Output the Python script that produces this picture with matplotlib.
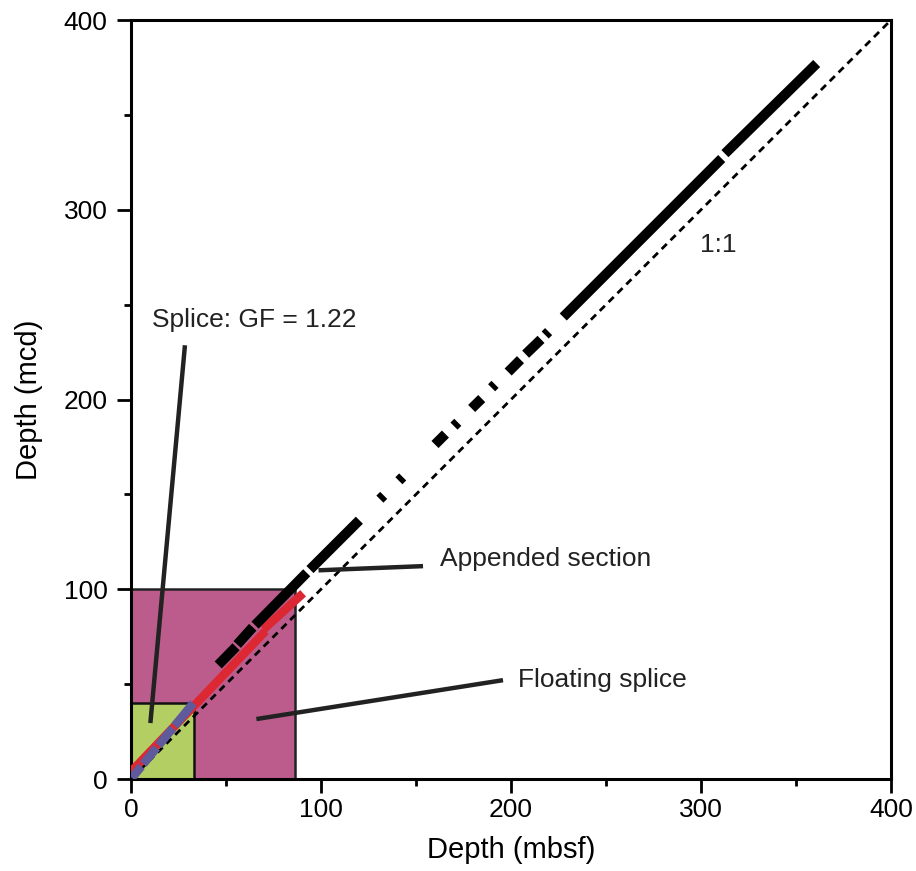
import matplotlib
matplotlib.use("Agg")
import matplotlib.pyplot as plt
from matplotlib.patches import Rectangle

plt.rcParams['font.family'] = ['Liberation Sans', 'DejaVu Sans']

# ---- data ----
# boxes: (x extent mbsf, y extent mcd)
floating_box = (86.3, 100.0)
splice_box = (33.0, 40.0)

# appended section cores (black): mbsf start/end, mcd start/end
app_x0 = [45.9, 55.9, 65.3, 94.2, 131.0, 141.0, 160.0, 170.0, 179.3, 189.8, 198.5, 207.7, 218.0, 227.5, 312.6]
app_x1 = [55.3, 64.1, 92.5, 120.2, 133.0, 143.0, 165.5, 172.0, 184.6, 191.6, 205.0, 215.8, 219.8, 310.9, 360.9]
app_y0 = [60.1, 70.9, 81.1, 110.4, 147.5, 157.2, 176.3, 186.0, 195.3, 206.2, 214.5, 223.9, 234.0, 243.5, 329.6]
app_y1 = [69.7, 80.0, 108.7, 136.4, 149.5, 159.2, 181.8, 188.0, 200.5, 208.0, 221.0, 231.7, 235.8, 327.0, 377.1]

# floating splice (red)
red_x0 = [0.0, 69.8]
red_x1 = [70.8, 90.6]
red_y0 = [3.8, 78.9]
red_y1 = [78.0, 97.9]

# splice with growth factor 1.22 (blue)
gf = 1.22
blue_x0 = [0.5, 6.5, 14.5, 23.0]
blue_x1 = [5.5, 13.5, 22.0, 32.8]

one_to_one = [0, 400]

xticks = [0, 100, 200, 300, 400]
yticks = [0, 100, 200, 300, 400]

# ---- figure ----
fig = plt.figure(figsize=(9.16, 8.71), dpi=100)
ax = fig.add_axes([0.143, 0.1056, 0.8297, 0.8714])

pink = '#BC5C8C'
green = '#B3CE62'
red = '#DC2833'
blue = '#5F5A9B'
txt = '#222222'

ax.add_patch(Rectangle((0, 0), floating_box[0], floating_box[1], facecolor=pink,
                       edgecolor='#222222', linewidth=1.8, zorder=1))
ax.add_patch(Rectangle((0, 0), splice_box[0], splice_box[1], facecolor=green,
                       edgecolor='#111111', linewidth=1.8, zorder=2))

ax.plot(one_to_one, one_to_one, color='black', linewidth=2.0, dashes=(2.6, 1.9),
        dash_capstyle='butt', zorder=3)

for x0, x1, y0, y1 in zip(red_x0, red_x1, red_y0, red_y1):
    ax.plot([x0, x1], [y0, y1], color=red, linewidth=6.2, solid_capstyle='butt', zorder=4)

for x0, x1 in zip(blue_x0, blue_x1):
    ax.plot([x0, x1], [gf * x0, gf * x1], color=blue, linewidth=6.2,
            solid_capstyle='butt', zorder=5)

for x0, x1, y0, y1 in zip(app_x0, app_x1, app_y0, app_y1):
    ax.plot([x0, x1], [y0, y1], color='black', linewidth=7.2, solid_capstyle='butt', zorder=6)

# annotations
lw_ann = 3.2
ax.plot([28.4, 10.2], [228.6, 29.5], color=txt, linewidth=lw_ann, solid_capstyle='butt', zorder=7)
ax.plot([98.7, 153.7], [110.0, 112.2], color=txt, linewidth=lw_ann, solid_capstyle='butt', zorder=7)
ax.plot([66.0, 195.8], [31.6, 52.1], color=txt, linewidth=lw_ann, solid_capstyle='butt', zorder=7)

fs = 19
ax.text(11.0, 241.8, 'Splice: GF = 1.22', fontsize=fs, color=txt, va='center', ha='left')
ax.text(162.6, 115.9, 'Appended section', fontsize=fs, color=txt, va='center', ha='left')
ax.text(203.7, 52.2, 'Floating splice', fontsize=fs, color=txt, va='center', ha='left')
ax.text(299.5, 281.4, '1:1', fontsize=fs, color=txt, va='center', ha='left')

ax.set_xlim(0, 400)
ax.set_ylim(0, 400)
ax.set_xticks(xticks)
ax.set_yticks(yticks)
ax.set_xticks([50, 150, 250, 350], minor=True)
ax.set_yticks([50, 150, 250, 350], minor=True)
ax.tick_params(which='major', direction='out', length=10, width=2, labelsize=19)
ax.tick_params(axis='x', which='major', pad=4)
ax.tick_params(axis='y', which='major', pad=7)
ax.tick_params(which='minor', direction='out', length=5, width=2)
for s in ax.spines.values():
    s.set_linewidth(2.2)
    s.set_color('black')

ax.set_xlabel('Depth (mbsf)', fontsize=21, labelpad=10)
ax.set_ylabel('Depth (mcd)', fontsize=21, labelpad=15)

fig.savefig('out.png', dpi=100)
